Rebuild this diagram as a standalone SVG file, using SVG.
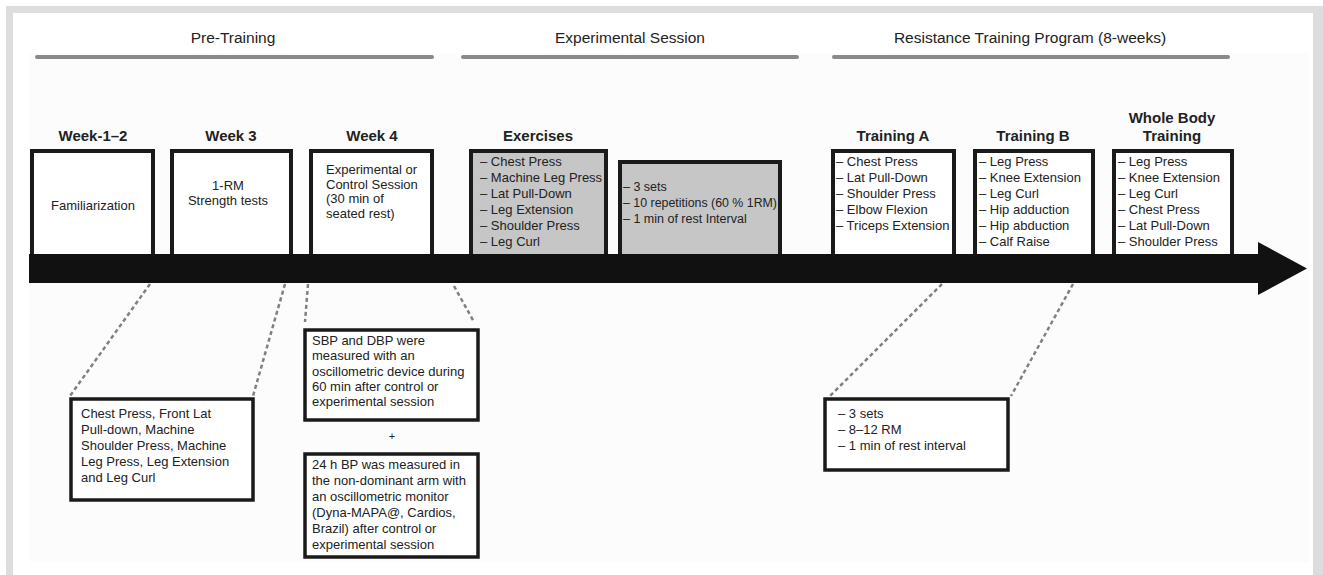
<svg xmlns="http://www.w3.org/2000/svg" width="1323" height="575" viewBox="0 0 1323 575">
<style>
.hdr{font-family:"Liberation Sans",Arial,sans-serif;font-size:15.5px;fill:#222;text-anchor:middle}
.ttl{font-family:"Liberation Sans",Arial,sans-serif;font-size:15px;font-weight:bold;fill:#222;text-anchor:middle}
.t{font-family:"Liberation Sans",Arial,sans-serif;font-size:13px;fill:#222}
.tc{font-family:"Liberation Sans",Arial,sans-serif;font-size:13px;fill:#222;text-anchor:middle}
.box{fill:#fff;stroke:#1a1a1a;stroke-width:4}
.gbox{fill:#c6c6c6;stroke:#1a1a1a;stroke-width:4}
.lbox{fill:#fff;stroke:#1a1a1a;stroke-width:3.5}
.hline{stroke:#8a8a8a;stroke-width:4;stroke-linecap:round}
.dash{stroke:#808080;stroke-width:2.5;stroke-dasharray:4 3;fill:none}
</style>
<rect x="0" y="0" width="1323" height="575" fill="#fff"/>
<rect x="6" y="6" width="1317" height="569" fill="#dddddd"/>
<rect x="13" y="13" width="1300" height="562" fill="#fff"/>
<rect x="29" y="53" width="1280" height="509" fill="#fcfcfc"/>

<g id="headers">
<text class="hdr" x="233" y="43">Pre-Training</text>
<line class="hline" x1="37" y1="57" x2="432" y2="57"/>
<text class="hdr" x="630" y="43">Experimental Session</text>
<line class="hline" x1="463" y1="57" x2="797" y2="57"/>
<text class="hdr" x="1030" y="43">Resistance Training Program (8-weeks)</text>
<line class="hline" x1="834" y1="57" x2="1228" y2="57"/>
</g>

<g id="connectors">
<line class="dash" x1="150" y1="284" x2="70" y2="396"/>
<line class="dash" x1="285" y1="284" x2="253" y2="396"/>
<line class="dash" x1="308" y1="284" x2="305" y2="322"/>
<line class="dash" x1="454" y1="286" x2="474" y2="322"/>
<line class="dash" x1="942" y1="284" x2="830" y2="396"/>
<line class="dash" x1="1073" y1="284" x2="1011" y2="396"/>
</g>

<g id="week12">
<text class="ttl" x="93" y="141">Week-1–2</text>
<rect class="box" x="32" y="151" width="121" height="105"/>
<text class="tc" x="93" y="210">Familiarization</text>
</g>
<g id="week3">
<text class="ttl" x="231" y="141">Week 3</text>
<rect class="box" x="172" y="151" width="119" height="105"/>
<text class="tc" x="228" y="190">1-RM</text>
<text class="tc" x="228" y="205">Strength tests</text>
</g>
<g id="week4">
<text class="ttl" x="372" y="141">Week 4</text>
<rect class="box" x="311" y="151" width="121" height="105"/>
<text class="t" x="326" y="174">Experimental or</text>
<text class="t" x="326" y="189">Control Session</text>
<text class="t" x="326" y="203">(30 min of</text>
<text class="t" x="326" y="218">seated rest)</text>
</g>
<g id="exercises">
<text class="ttl" x="538" y="141">Exercises</text>
<rect class="gbox" x="471" y="151" width="135" height="105"/>
<text class="t" x="480" y="166">– Chest Press</text>
<text class="t" x="480" y="182">– Machine Leg Press</text>
<text class="t" x="480" y="198">– Lat Pull-Down</text>
<text class="t" x="480" y="214">– Leg Extension</text>
<text class="t" x="480" y="230">– Shoulder Press</text>
<text class="t" x="480" y="246">– Leg Curl</text>
</g>
<g id="sets">
<rect class="gbox" x="620" y="162" width="160" height="94"/>
<text class="t" x="623" y="191" style="font-size:12.5px">– 3 sets</text>
<text class="t" x="623" y="207" style="font-size:12.5px" textLength="154" lengthAdjust="spacingAndGlyphs">– 10 repetitions (60 % 1RM)</text>
<text class="t" x="623" y="223" style="font-size:12.5px">– 1 min of rest Interval</text>
</g>
<g id="trainingA">
<text class="ttl" x="893" y="141">Training A</text>
<rect class="box" x="833" y="151" width="121" height="105"/>
<text class="t" x="836" y="166">– Chest Press</text>
<text class="t" x="836" y="182">– Lat Pull-Down</text>
<text class="t" x="836" y="198">– Shoulder Press</text>
<text class="t" x="836" y="214">– Elbow Flexion</text>
<text class="t" x="836" y="230">– Triceps Extension</text>
</g>
<g id="trainingB">
<text class="ttl" x="1033" y="141">Training B</text>
<rect class="box" x="975" y="151" width="118" height="105"/>
<text class="t" x="979" y="166">– Leg Press</text>
<text class="t" x="979" y="182">– Knee Extension</text>
<text class="t" x="979" y="198">– Leg Curl</text>
<text class="t" x="979" y="214">– Hip adduction</text>
<text class="t" x="979" y="230">– Hip abduction</text>
<text class="t" x="979" y="246">– Calf Raise</text>
</g>
<g id="wholebody">
<text class="ttl" x="1172" y="123">Whole Body</text>
<text class="ttl" x="1172" y="141">Training</text>
<rect class="box" x="1114" y="151" width="118" height="105"/>
<text class="t" x="1118" y="166">– Leg Press</text>
<text class="t" x="1118" y="182">– Knee Extension</text>
<text class="t" x="1118" y="198">– Leg Curl</text>
<text class="t" x="1118" y="214">– Chest Press</text>
<text class="t" x="1118" y="230">– Lat Pull-Down</text>
<text class="t" x="1118" y="246">– Shoulder Press</text>
</g>

<g id="timeline">
<path d="M29,254 H1258 V242 L1307,268.5 L1258,295 V283 H29 Z" fill="#111"/>
</g>

<g id="pretests">
<rect class="lbox" x="71" y="399" width="182" height="101"/>
<text class="t" x="81" y="418">Chest Press, Front Lat</text>
<text class="t" x="81" y="434">Pull-down, Machine</text>
<text class="t" x="81" y="450">Shoulder Press, Machine</text>
<text class="t" x="81" y="466">Leg Press, Leg Extension</text>
<text class="t" x="81" y="482">and Leg Curl</text>
</g>
<g id="sbp">
<rect class="lbox" x="305" y="330" width="173" height="90"/>
<text class="t" x="312" y="345">SBP and DBP were</text>
<text class="t" x="312" y="360">measured with an</text>
<text class="t" x="312" y="376">oscillometric device during</text>
<text class="t" x="312" y="391">60 min after control or</text>
<text class="t" x="312" y="406">experimental session</text>
</g>
<text class="tc" x="392" y="440" style="font-size:11px">+</text>
<g id="abpm">
<rect class="lbox" x="305" y="454" width="173" height="103"/>
<text class="t" x="312" y="469">24 h BP was measured in</text>
<text class="t" x="312" y="485">the non-dominant arm with</text>
<text class="t" x="312" y="501">an oscillometric monitor</text>
<text class="t" x="312" y="517">(Dyna-MAPA@, Cardios,</text>
<text class="t" x="312" y="533">Brazil) after control or</text>
<text class="t" x="312" y="549">experimental session</text>
</g>
<g id="trainparams">
<rect class="lbox" x="825" y="399" width="183" height="71"/>
<text class="t" x="838" y="418">– 3 sets</text>
<text class="t" x="838" y="434">– 8–12 RM</text>
<text class="t" x="838" y="450">– 1 min of rest interval</text>
</g>
</svg>
